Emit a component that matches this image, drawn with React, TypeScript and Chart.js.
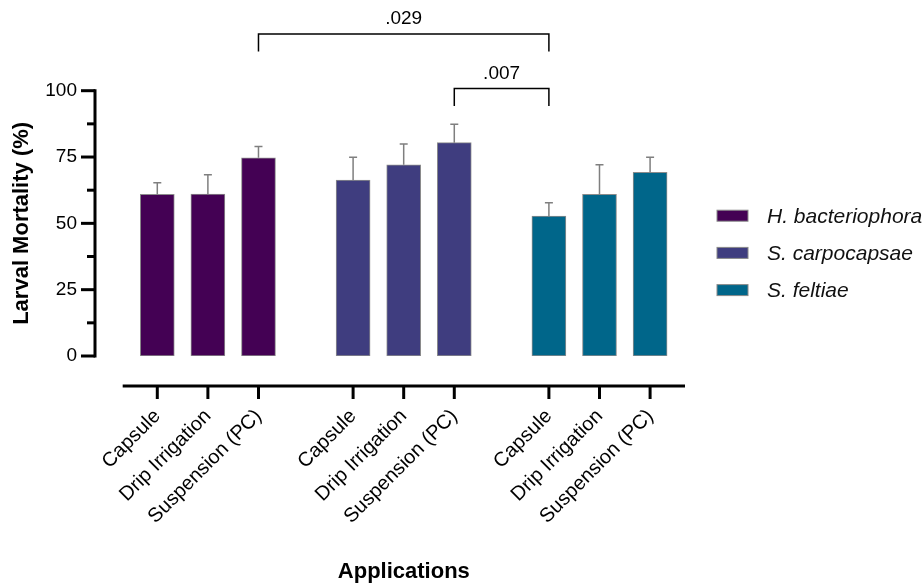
import React, { useEffect, useRef } from 'react';
import { Chart, registerables } from 'chart.js';

Chart.register(...registerables);

// ---- data ----
const APPLICATIONS = ['Capsule', 'Drip Irrigation', 'Suspension (PC)'];
const SPECIES = ['H. bacteriophora', 'S. carpocapsae', 'S. feltiae'];
const H_BACT_MEAN = [60.9, 61.0, 74.7];
const H_BACT_SD = [4.4, 7.3, 4.3];
const S_CARPO_MEAN = [66.3, 72.1, 80.4];
const S_CARPO_SD = [8.6, 7.8, 7.0];
const S_FELT_MEAN = [52.7, 60.9, 69.2];
const S_FELT_SD = [5.1, 11.2, 5.7];
const Y_TICKS = [0, 25, 50, 75, 100];
const Y_MINOR_STEP = 12.5;
// comparisons: [group, application] -> [group, application], p value, bracket level (y units)
const COMP_FROM = [[0, 2], [1, 2]];
const COMP_TO = [[2, 0], [2, 0]];
const COMP_P = ['.029', '.007'];
const COMP_LEVEL = [121.4, 100.8];

const COLORS = ['#440154', '#3f3d7f', '#00668a'];
const FONT = '"Liberation Sans", Arial, Helvetica, sans-serif';
const GROUP_GAP = 0.87;
const AXIS_PAD_LEFT = 0.684;
const AXIS_PAD_RIGHT = 0.69;

const xPos = (g: number, i: number) => g * APPLICATIONS.length + i + g * GROUP_GAP;
const MEANS = [H_BACT_MEAN, S_CARPO_MEAN, S_FELT_MEAN];
const SDS = [H_BACT_SD, S_CARPO_SD, S_FELT_SD];
const FIRST_X = xPos(0, 0);
const LAST_X = xPos(SPECIES.length - 1, APPLICATIONS.length - 1);

const prismPlugin = {
  id: 'prism',
  afterDatasetsDraw(chart: any) {
    const ctx = chart.ctx as CanvasRenderingContext2D;
    const xs = chart.scales.x;
    const ys = chart.scales.y;
    const area = chart.chartArea;
    ctx.save();

    // error bars
    chart.data.datasets.forEach((ds: any, di: number) => {
      const meta = chart.getDatasetMeta(di);
      meta.data.forEach((bar: any, i: number) => {
        const v = ds.data[i].y;
        const top = ys.getPixelForValue(v + ds.sd[i]);
        ctx.strokeStyle = '#7f7f7f';
        ctx.lineWidth = 1.5;
        ctx.beginPath();
        ctx.moveTo(bar.x, bar.y);
        ctx.lineTo(bar.x, top);
        ctx.moveTo(bar.x - 4, top);
        ctx.lineTo(bar.x + 4, top);
        ctx.stroke();
      });
    });

    // y axis line + ticks
    ctx.strokeStyle = '#000';
    ctx.lineWidth = 3;
    ctx.lineCap = 'butt';
    const yTop = ys.getPixelForValue(Y_TICKS[Y_TICKS.length - 1]);
    const yBot = ys.getPixelForValue(Y_TICKS[0]);
    ctx.beginPath();
    ctx.moveTo(area.left, yTop - 1.5);
    ctx.lineTo(area.left, yBot + 1.5);
    ctx.stroke();
    for (let v = Y_TICKS[0]; v <= Y_TICKS[Y_TICKS.length - 1] + 1e-6; v += Y_MINOR_STEP) {
      const major = Y_TICKS.includes(v);
      const py = ys.getPixelForValue(v);
      ctx.beginPath();
      ctx.moveTo(area.left, py);
      ctx.lineTo(area.left - (major ? 14 : 8), py);
      ctx.stroke();
    }

    // x axis line + ticks (offset below)
    const axY = area.bottom + 30;
    const axL = xs.getPixelForValue(FIRST_X - AXIS_PAD_LEFT);
    const axR = xs.getPixelForValue(LAST_X + AXIS_PAD_RIGHT);
    ctx.beginPath();
    ctx.moveTo(axL, axY);
    ctx.lineTo(axR, axY);
    ctx.stroke();
    ctx.fillStyle = '#000';
    ctx.font = `20px ${FONT}`;
    for (let g = 0; g < SPECIES.length; g++) {
      for (let i = 0; i < APPLICATIONS.length; i++) {
        const px = xs.getPixelForValue(xPos(g, i));
        ctx.beginPath();
        ctx.moveTo(px, axY);
        ctx.lineTo(px, axY + 13);
        ctx.stroke();
        ctx.save();
        ctx.translate(px + 4, axY + 31);
        ctx.rotate(-Math.PI / 4);
        ctx.textAlign = 'right';
        ctx.textBaseline = 'alphabetic';
        ctx.fillText(APPLICATIONS[i], 0, 0);
        ctx.restore();
      }
    }

    // x title
    ctx.font = `bold 22px ${FONT}`;
    ctx.textAlign = 'center';
    ctx.textBaseline = 'alphabetic';
    ctx.fillText('Applications', (axL + axR) / 2, 578);

    // y title
    ctx.save();
    ctx.translate(22, (yTop + yBot) / 2);
    ctx.rotate(-Math.PI / 2);
    ctx.textAlign = 'center';
    ctx.textBaseline = 'middle';
    ctx.fillText('Larval Mortality (%)', 0, 0);
    ctx.restore();

    // comparison brackets
    ctx.lineWidth = 1.5;
    ctx.strokeStyle = '#000';
    for (let c = 0; c < COMP_P.length; c++) {
      const x1 = xs.getPixelForValue(xPos(COMP_FROM[c][0], COMP_FROM[c][1]));
      const x2 = xs.getPixelForValue(xPos(COMP_TO[c][0], COMP_TO[c][1]));
      const by = ys.getPixelForValue(COMP_LEVEL[c]);
      const legY = ys.getPixelForValue(COMP_LEVEL[c] - 6.6);
      ctx.beginPath();
      ctx.moveTo(x1, legY);
      ctx.lineTo(x1, by);
      ctx.lineTo(x2, by);
      ctx.lineTo(x2, legY);
      ctx.stroke();
      ctx.font = `19px ${FONT}`;
      ctx.textAlign = 'center';
      ctx.textBaseline = 'alphabetic';
      ctx.fillText(COMP_P[c], (x1 + x2) / 2, by - 9.5);
    }

    // legend
    ctx.font = `italic 21px ${FONT}`;
    ctx.textAlign = 'left';
    ctx.textBaseline = 'middle';
    SPECIES.forEach((s, k) => {
      const cy = 215.7 + k * 37.2;
      ctx.fillStyle = COLORS[k];
      ctx.fillRect(717, cy - 5.5, 31, 11);
      ctx.strokeStyle = '#8a8a8a';
      ctx.lineWidth = 1;
      ctx.strokeRect(717, cy - 5.5, 31, 11);
      ctx.fillStyle = '#111';
      ctx.fillText(s, 767, cy + 1);
    });

    ctx.restore();
  },
};

export default function App() {
  const ref = useRef<HTMLCanvasElement | null>(null);
  useEffect(() => {
    if (!ref.current) return;
    const datasets = SPECIES.map((s, g) => ({
      label: s,
      data: MEANS[g].map((v, i) => ({ x: xPos(g, i), y: v })),
      sd: SDS[g],
      backgroundColor: COLORS[g],
      borderColor: '#8c8c8c',
      borderWidth: 1,
      borderSkipped: false,
      barThickness: 34,
      grouped: false,
    }));
    const chart = new Chart(ref.current, {
      type: 'bar',
      data: { datasets } as any,
      options: {
        animation: false,
        responsive: false,
        devicePixelRatio: 1,
        layout: { padding: { left: 0, top: 90.7, right: 237, bottom: 227 } },
        plugins: { legend: { display: false }, tooltip: { enabled: false } },
        scales: {
          x: {
            type: 'linear',
            offset: false,
            min: FIRST_X - (157.3 - 95) / 50.6,
            max: LAST_X + AXIS_PAD_RIGHT,
            grid: { display: false, drawTicks: false },
            border: { display: false },
            ticks: { display: false },
            afterFit: (s: any) => { s.height = 0; },
          },
          y: {
            min: Y_TICKS[0],
            max: Y_TICKS[Y_TICKS.length - 1],
            afterBuildTicks: (s: any) => { s.ticks = Y_TICKS.map((v) => ({ value: v })); },
            grid: { display: false, drawTicks: false, tickLength: 0 },
            border: { display: false },
            ticks: { padding: 18, color: '#000', font: { family: FONT, size: 19 } },
            afterFit: (s: any) => { s.width = 95; },
          },
        },
      } as any,
      plugins: [prismPlugin],
    });
    return () => chart.destroy();
  }, []);
  return (
    <div style={{ position: 'fixed', left: 0, top: 0, width: 922, height: 583, background: '#fff' }}>
      <canvas ref={ref} width={922} height={583} style={{ width: 922, height: 583 }} />
    </div>
  );
}
